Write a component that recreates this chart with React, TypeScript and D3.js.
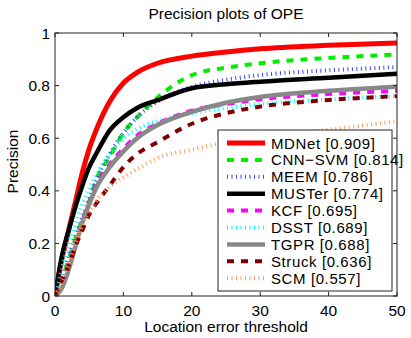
import { useEffect, useRef } from 'react';
import * as d3 from 'd3';

// location error thresholds (px) at which values were read
const thresholds = [0, 1, 2, 3, 4, 5, 6, 8, 10, 12, 15, 20, 25, 30, 40, 50];

const mdnet = [0, 0.14, 0.25, 0.36, 0.47, 0.56, 0.63, 0.74, 0.81, 0.85, 0.885, 0.912, 0.928, 0.94, 0.953, 0.962];
const cnnSvm = [0, 0.06, 0.14, 0.22, 0.29, 0.36, 0.44, 0.53, 0.62, 0.68, 0.755, 0.84, 0.868, 0.885, 0.905, 0.918];
const meem = [0, 0.07, 0.15, 0.23, 0.3, 0.37, 0.44, 0.54, 0.62, 0.68, 0.74, 0.795, 0.822, 0.84, 0.858, 0.87];
const muster = [0, 0.15, 0.25, 0.34, 0.42, 0.49, 0.54, 0.63, 0.68, 0.715, 0.745, 0.79, 0.805, 0.815, 0.83, 0.845];
const kcf = [0, 0.05, 0.12, 0.2, 0.28, 0.355, 0.42, 0.5, 0.56, 0.61, 0.655, 0.705, 0.73, 0.748, 0.768, 0.78];
const dsst = [0, 0.1, 0.2, 0.28, 0.35, 0.41, 0.46, 0.54, 0.6, 0.635, 0.665, 0.695, 0.715, 0.73, 0.748, 0.76];
const tgpr = [0, 0.03, 0.1, 0.19, 0.28, 0.35, 0.41, 0.49, 0.55, 0.6, 0.65, 0.7, 0.735, 0.757, 0.78, 0.796];
const struck = [0, 0.06, 0.115, 0.19, 0.25, 0.31, 0.35, 0.42, 0.49, 0.54, 0.585, 0.655, 0.695, 0.72, 0.745, 0.76];
const scm = [0, 0.05, 0.12, 0.2, 0.27, 0.32, 0.36, 0.415, 0.45, 0.482, 0.525, 0.556, 0.585, 0.605, 0.632, 0.665];

const names = ['MDNet [0.909]', 'CNN\u2212SVM [0.814]', 'MEEM [0.786]', 'MUSTer [0.774]', 'KCF [0.695]', 'DSST [0.689]', 'TGPR [0.688]', 'Struck [0.636]', 'SCM [0.557]'];

const xTicks = [0, 10, 20, 30, 40, 50];
const yTicks = [0, 0.2, 0.4, 0.6, 0.8, 1];

export default function App() {
  const svgRef = useRef<SVGSVGElement | null>(null);

  useEffect(() => {
    if (!svgRef.current) return;
    const svg = d3.select(svgRef.current);
    svg.selectAll('*').remove();

    const left = 55, right = 397, top = 33, bottom = 296;
    const font = '"Liberation Sans", Arial, Helvetica, sans-serif';
    const fs = '15.5px';

    const series = [
      { values: mdnet, color: '#ff0000', width: 5, dash: null },
      { values: cnnSvm, color: '#00ee00', width: 4, dash: '7,7' },
      { values: meem, color: '#3344ff', width: 4, dash: '1,3.5' },
      { values: muster, color: '#000000', width: 4.5, dash: null },
      { values: kcf, color: '#ff00ff', width: 4, dash: '7,7' },
      { values: dsst, color: '#00ffff', width: 4, dash: '1,3.5' },
      { values: tgpr, color: '#888888', width: 4.5, dash: null },
      { values: struck, color: '#800000', width: 4, dash: '7,7' },
      { values: scm, color: '#ff9955', width: 4, dash: '1,3.5' },
    ];

    const x = d3.scaleLinear().domain([0, 50]).range([left, right]);
    const y = d3.scaleLinear().domain([0, 1]).range([bottom, top]);

    svg.append('rect')
      .attr('width', 411).attr('height', 338).attr('fill', '#fff');

    svg.append('defs').append('clipPath').attr('id', 'plotclip')
      .append('rect')
      .attr('x', left).attr('y', top - 3)
      .attr('width', right - left).attr('height', bottom - top + 3);

    // Curves
    const line = d3.line<number>()
      .x((_, i) => x(thresholds[i]))
      .y(d => y(d))
      .curve(d3.curveMonotoneX);

    const curves = svg.append('g').attr('clip-path', 'url(#plotclip)');
    series.forEach(s => {
      curves.append('path')
        .datum(s.values)
        .attr('fill', 'none')
        .attr('stroke', s.color)
        .attr('stroke-width', s.width)
        .attr('stroke-dasharray', s.dash)
        .attr('d', line);
    });

    // Box and ticks
    svg.append('rect')
      .attr('x', left).attr('y', top)
      .attr('width', right - left).attr('height', bottom - top)
      .attr('fill', 'none').attr('stroke', '#222').attr('stroke-width', 1);

    const tickLen = 4;
    xTicks.forEach(t => {
      svg.append('line')
        .attr('x1', x(t)).attr('x2', x(t))
        .attr('y1', bottom).attr('y2', bottom - tickLen)
        .attr('stroke', '#222');
      svg.append('line')
        .attr('x1', x(t)).attr('x2', x(t))
        .attr('y1', top).attr('y2', top + tickLen)
        .attr('stroke', '#222');
      svg.append('text')
        .attr('x', x(t)).attr('y', 316)
        .attr('text-anchor', 'middle')
        .style('font-family', font).style('font-size', fs)
        .text(String(t));
    });
    yTicks.forEach(t => {
      svg.append('line')
        .attr('x1', left).attr('x2', left + tickLen)
        .attr('y1', y(t)).attr('y2', y(t))
        .attr('stroke', '#222');
      svg.append('line')
        .attr('x1', right).attr('x2', right - tickLen)
        .attr('y1', y(t)).attr('y2', y(t))
        .attr('stroke', '#222');
      svg.append('text')
        .attr('x', 50).attr('y', y(t) + 5.5)
        .attr('text-anchor', 'end')
        .style('font-family', font).style('font-size', fs)
        .text(String(t));
    });

    // Titles
    svg.append('text')
      .attr('x', (left + right) / 2).attr('y', 19)
      .attr('text-anchor', 'middle')
      .style('font-family', font).style('font-size', fs)
      .text('Precision plots of OPE');

    svg.append('text')
      .attr('x', (left + right) / 2).attr('y', 332)
      .attr('text-anchor', 'middle')
      .style('font-family', font).style('font-size', fs)
      .text('Location error threshold');

    svg.append('text')
      .attr('transform', `translate(18,${(top + bottom) / 2 - 3}) rotate(-90)`)
      .attr('text-anchor', 'middle')
      .style('font-family', font).style('font-size', fs)
      .text('Precision');

    // Legend
    const legend = svg.append('g');
    legend.append('rect')
      .attr('x', 218).attr('y', 130)
      .attr('width', 174).attr('height', 161)
      .attr('fill', '#fff').attr('stroke', '#222').attr('stroke-width', 1);

    series.forEach((s, i) => {
      const ly = 143 + i * 16.9;
      legend.append('line')
        .attr('x1', 227).attr('x2', 265)
        .attr('y1', ly).attr('y2', ly)
        .attr('stroke', s.color)
        .attr('stroke-width', s.width)
        .attr('stroke-dasharray', s.dash);
      legend.append('text')
        .attr('x', 271).attr('y', ly + 5.5)
        .style('font-family', font).style('font-size', '15px')
        .style('letter-spacing', '0.6px')
        .text(names[i]);
    });
  }, []);

  return (
    <svg
      ref={svgRef}
      width={411}
      height={338}
      style={{ position: 'absolute', left: 0, top: 0, display: 'block' }}
    />
  );
}
